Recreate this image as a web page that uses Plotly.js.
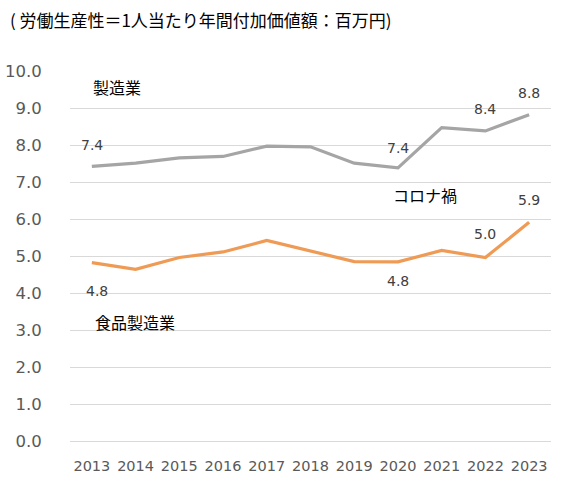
<!DOCTYPE html>
<html>
<head>
<meta charset="utf-8">
<script src="https://cdn.plot.ly/plotly-3.0.1.min.js"></script>
<style>html,body{margin:0;padding:0;background:#fff;}#chart{width:581px;height:488px;}</style>
</head>
<body>
<div id="chart"></div>
<script>
const years = ['2013','2014','2015','2016','2017','2018','2019','2020','2021','2022','2023'];
const manufacturing = [7.42, 7.51, 7.65, 7.69, 7.97, 7.95, 7.51, 7.38, 8.47, 8.38, 8.82];
const foodManufacturing = [4.82, 4.64, 4.96, 5.11, 5.42, 5.14, 4.85, 4.84, 5.15, 4.96, 5.91];
const manufacturingLabelIdx = [0, 7, 9, 10];
const foodLabelIdx = [0, 7, 9, 10];
const yTicks = [0,1,2,3,4,5,6,7,8,9,10];
const titleText = '( 労働生産性＝1人当たり年間付加価値額：百万円)';

const FONT = '"Noto Sans CJK JP", "Noto Sans", sans-serif';
const NUMFONT = '"DejaVu Sans", "Noto Sans", sans-serif';

const traces = [
  {x: years, y: manufacturing, type: 'scatter', mode: 'lines', name: '製造業',
   line: {color: '#A5A5A5', width: 3.2}, hoverinfo: 'skip'},
  {x: years, y: foodManufacturing, type: 'scatter', mode: 'lines', name: '食品製造業',
   line: {color: '#EF9B55', width: 3.2}, hoverinfo: 'skip'}
];

const mShift = {0: 21, 7: 20, 9: 22, 10: 22};
const fShift = {0: -28, 7: -19, 9: 23, 10: 22};
const fXShift = {0: 5, 7: 0, 9: 0, 10: 0};

const annotations = [];
manufacturingLabelIdx.forEach(i => {
  annotations.push({x: i, y: manufacturing[i], xref: 'x', yref: 'y',
    text: manufacturing[i].toFixed(1), showarrow: false, yshift: mShift[i],
    font: {family: NUMFONT, size: 14, color: '#404040'}});
});
foodLabelIdx.forEach(i => {
  annotations.push({x: i, y: foodManufacturing[i], xref: 'x', yref: 'y',
    text: foodManufacturing[i].toFixed(1), showarrow: false, yshift: fShift[i], xshift: fXShift[i],
    font: {family: NUMFONT, size: 14, color: '#404040'}});
});
const textNotes = [
  {px: 117, py: 87, text: '製造業'},
  {px: 425, py: 195, text: 'コロナ禍'},
  {px: 135, py: 322, text: '食品製造業'}
];

const W = 581, H = 488, ml = 70, mr = 30, mt = 71, mb = 47;
textNotes.forEach(n => {
  annotations.push({x: (n.px - ml) / (W - ml - mr), y: 1 - (n.py - mt) / (H - mt - mb),
    xref: 'paper', yref: 'paper', xanchor: 'center', yanchor: 'middle',
    text: n.text, showarrow: false, font: {family: FONT, size: 16, color: '#000'}});
});

const layout = {
  width: W, height: H,
  margin: {l: ml, r: mr, t: mt, b: mb},
  paper_bgcolor: '#fff', plot_bgcolor: '#fff',
  showlegend: false,
  font: {family: FONT, color: '#595959'},
  title: {text: titleText, x: 0.017, xanchor: 'left', y: 0.957, yanchor: 'middle',
    font: {family: FONT, size: 17, color: '#000'}},
  xaxis: {type: 'category', range: [-0.5, 10.5], autorange: false, showgrid: false, zeroline: false, showline: false,
    ticks: 'outside', ticklen: 12, tickcolor: 'rgba(0,0,0,0)',
    tickfont: {family: NUMFONT, size: 14.5, color: '#595959'}, fixedrange: true},
  yaxis: {range: [0, 10], autorange: false, tickvals: yTicks, tickformat: '.1f', showgrid: true, gridcolor: '#D9D9D9', gridwidth: 1,
    zeroline: true, zerolinecolor: '#D9D9D9', zerolinewidth: 1, showline: false,
    ticks: 'outside', ticklen: 24, tickcolor: 'rgba(0,0,0,0)',
    tickfont: {family: NUMFONT, size: 16.5, color: '#595959'}, fixedrange: true},
  annotations: annotations
};

Plotly.newPlot('chart', traces, layout, {displayModeBar: false, staticPlot: true});
</script>
</body>
</html>
